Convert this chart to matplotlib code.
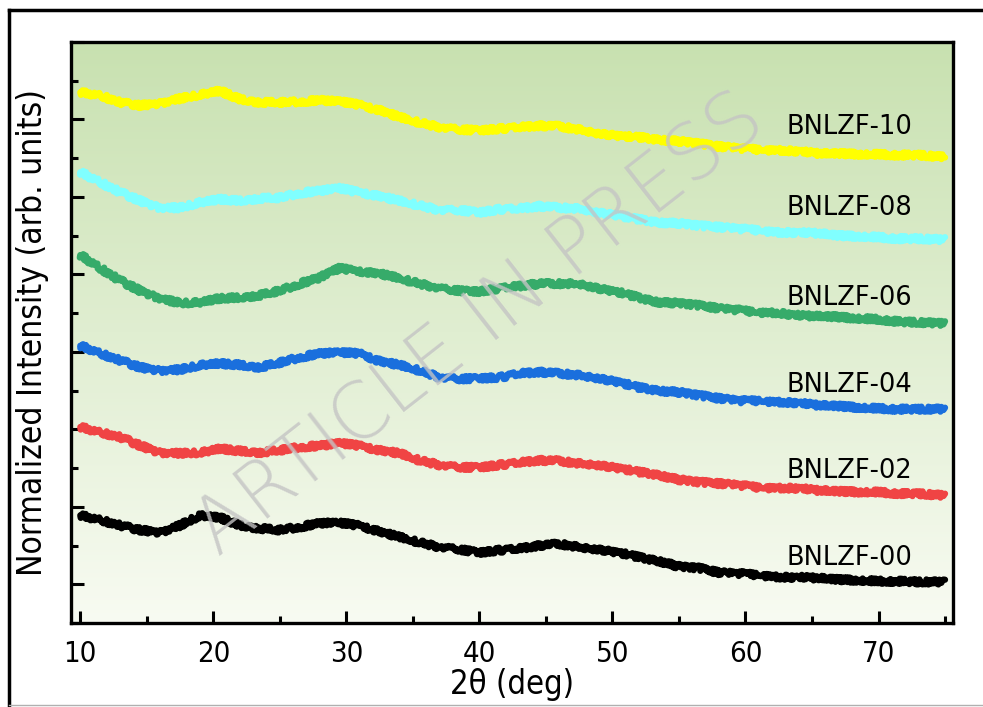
import numpy as np
import matplotlib
matplotlib.use("Agg")
import matplotlib.pyplot as plt
from matplotlib import font_manager
from matplotlib.font_manager import FontProperties
from matplotlib.lines import Line2D
from matplotlib.ticker import MultipleLocator

# 2theta grid (deg) and normalized, offset intensities
two_theta = np.append(np.arange(10, 75, 1.5), 75)

bnlzf_10 = [6.35, 6.31, 6.22, 6.18, 6.21, 6.27, 6.32, 6.37, 6.26, 6.22,
            6.22, 6.23, 6.25, 6.23, 6.19, 6.12, 6.03, 5.96, 5.90, 5.87,
            5.86, 5.88, 5.90, 5.92, 5.91, 5.87, 5.82, 5.79, 5.77, 5.74,
            5.72, 5.69, 5.65, 5.63, 5.61, 5.60, 5.59, 5.56, 5.56, 5.55,
            5.55, 5.54, 5.54, 5.52, 5.52]
bnlzf_08 = [5.32, 5.19, 5.06, 4.95, 4.86, 4.86, 4.93, 4.97, 4.95, 4.98,
            4.99, 5.05, 5.08, 5.11, 5.06, 5.01, 4.95, 4.89, 4.83, 4.83,
            4.80, 4.84, 4.85, 4.88, 4.86, 4.85, 4.80, 4.76, 4.71, 4.67,
            4.66, 4.63, 4.61, 4.59, 4.57, 4.54, 4.54, 4.53, 4.50, 4.49,
            4.48, 4.46, 4.46, 4.45, 4.45]
bnlzf_06 = [4.25, 4.08, 3.92, 3.79, 3.69, 3.63, 3.64, 3.69, 3.70, 3.73,
            3.79, 3.88, 3.96, 4.08, 4.04, 4.01, 3.95, 3.88, 3.82, 3.79,
            3.78, 3.82, 3.85, 3.88, 3.88, 3.88, 3.82, 3.77, 3.70, 3.64,
            3.63, 3.60, 3.56, 3.54, 3.51, 3.50, 3.47, 3.46, 3.45, 3.43,
            3.42, 3.39, 3.38, 3.37, 3.37]
bnlzf_04 = [3.08, 2.98, 2.89, 2.80, 2.76, 2.77, 2.83, 2.85, 2.83, 2.80,
            2.86, 2.93, 2.98, 2.99, 2.98, 2.88, 2.83, 2.76, 2.67, 2.65,
            2.66, 2.67, 2.72, 2.74, 2.72, 2.70, 2.66, 2.61, 2.54, 2.50,
            2.48, 2.44, 2.40, 2.37, 2.37, 2.35, 2.34, 2.31, 2.30, 2.28,
            2.27, 2.26, 2.26, 2.26, 2.26]
bnlzf_02 = [2.03, 1.96, 1.90, 1.79, 1.70, 1.69, 1.70, 1.75, 1.72, 1.70,
            1.73, 1.77, 1.79, 1.82, 1.79, 1.73, 1.69, 1.60, 1.54, 1.51,
            1.51, 1.54, 1.57, 1.60, 1.59, 1.56, 1.54, 1.50, 1.45, 1.41,
            1.35, 1.32, 1.30, 1.28, 1.25, 1.24, 1.24, 1.21, 1.20, 1.19,
            1.19, 1.17, 1.17, 1.15, 1.15]
bnlzf_00 = [0.89, 0.83, 0.76, 0.70, 0.67, 0.76, 0.89, 0.86, 0.76, 0.72,
            0.70, 0.74, 0.79, 0.79, 0.76, 0.68, 0.61, 0.54, 0.48, 0.45,
            0.41, 0.44, 0.46, 0.50, 0.52, 0.48, 0.45, 0.41, 0.35, 0.30,
            0.23, 0.21, 0.15, 0.14, 0.12, 0.09, 0.09, 0.08, 0.06, 0.05,
            0.04, 0.04, 0.03, 0.03, 0.03]

names = ["BNLZF-00", "BNLZF-02", "BNLZF-04", "BNLZF-06", "BNLZF-08", "BNLZF-10"]
series = [bnlzf_00, bnlzf_02, bnlzf_04, bnlzf_06, bnlzf_08, bnlzf_10]
colors = ["#000000", "#f04444", "#1a6fdd", "#36ab6a", "#80ffff", "#ffff00"]
label_y = [0.34, 1.46, 2.57, 3.70, 4.86, 5.90]

# narrow font for axis text, if there is one
cond = {}
path = font_manager.findfont(FontProperties(family="DejaVu Sans", stretch="condensed"))
if "Condensed" in path:
    cond = {"family": "DejaVu Sans", "stretch": "condensed"}
else:
    try:
        font_manager.findfont(FontProperties(family="Liberation Sans Narrow"),
                              fallback_to_default=False)
        cond = {"family": "Liberation Sans Narrow"}
    except Exception:
        cond = {"family": "DejaVu Sans"}

fig = plt.figure(figsize=(9.83, 7.07), dpi=100)
ax = fig.add_axes([0.0722, 0.1188, 0.8973, 0.8218])

# green-to-white vertical gradient background
top = np.array([200, 225, 176]) / 255
bot = np.array([248, 251, 242]) / 255
t = np.linspace(0, 1, 256)[:, None]
grad = (bot * (1 - t) + top * t)[:, None, :]
ax.imshow(grad, extent=[0, 1, 0, 1], transform=ax.transAxes, aspect="auto",
          origin="lower", zorder=0)

for y, c, name, ly in zip(series, colors, names, label_y):
    ln, = ax.plot(two_theta, y, color=c, lw=4.5, solid_capstyle="round", zorder=2)
    # noisy look of the raw scan
    ln.set_sketch_params(scale=2.6, length=1.6, randomness=2)
    ax.text(63.1, ly, name, fontsize=18.5, va="center", ha="left", zorder=3)

ax.set_xlim(9.3, 75.6)
ax.set_ylim(-0.5, 7.0)
ax.xaxis.set_major_locator(MultipleLocator(10))
ax.xaxis.set_minor_locator(MultipleLocator(5))
ax.yaxis.set_major_locator(MultipleLocator(1))
ax.yaxis.set_minor_locator(MultipleLocator(0.5))
ax.tick_params(which="both", direction="in", width=2.2, top=False, right=False)
ax.tick_params(which="major", length=9, pad=12)
ax.tick_params(which="minor", length=5)
ax.set_yticklabels([])
for lab in ax.get_xticklabels():
    lab.set_fontproperties(FontProperties(size=21, **cond))
for s in ax.spines.values():
    s.set_linewidth(2.4)

ax.set_xlabel("2θ (deg)", fontproperties=FontProperties(size=23.5, **cond), labelpad=0)
ax.set_ylabel("Normalized Intensity (arb. units)",
              fontproperties=FontProperties(size=24, **cond), labelpad=4)

# watermark
fig.text(0.488, 0.54, "ARTICLE IN PRESS", fontsize=56, color="#c4c4c4", alpha=0.8,
         rotation=38, ha="center", va="center", fontweight="light", zorder=5)

# outer frame of the page
fig.add_artist(Line2D([9 / 983, 9 / 983], [0, 1 - 10 / 707], transform=fig.transFigure,
                      color="black", lw=2.5))
fig.add_artist(Line2D([9 / 983, 1], [1 - 10 / 707, 1 - 10 / 707], transform=fig.transFigure,
                      color="black", lw=2.5))
fig.add_artist(Line2D([9 / 983, 1], [2 / 707, 2 / 707], transform=fig.transFigure,
                      color="#b0b0b0", lw=1))

fig.savefig("out.png", dpi=100)
